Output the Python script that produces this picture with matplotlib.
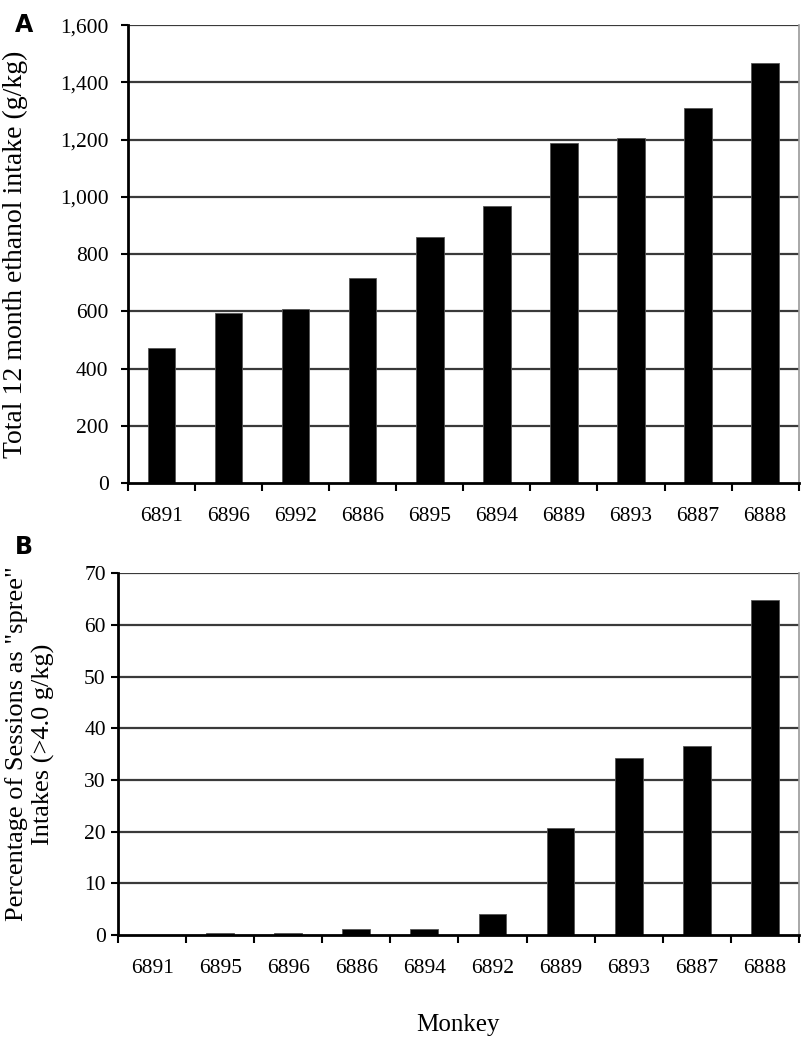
import numpy as np
import matplotlib.pyplot as plt
from matplotlib.ticker import FuncFormatter

plt.rcParams['font.family'] = ['Liberation Serif', 'DejaVu Serif']

# panel A: total 12 month intake, ordered by intake
monkeys_a = ['6891', '6896', '6992', '6886', '6895', '6894', '6889', '6893', '6887', '6888']
intake = [472, 594, 608, 716, 860, 968, 1188, 1205, 1310, 1467]

# panel B: percentage of sessions as spree intakes
monkeys_b = ['6891', '6895', '6896', '6886', '6894', '6892', '6889', '6893', '6887', '6888']
spree_pct = [0.0, 0.45, 0.45, 1.1, 1.1, 4.0, 20.7, 34.2, 36.5, 64.8]

grid_color = '#3a3a3a'


def bar_panel(ax, labels, values, ymax, ystep, fmt=None, ypad=5):
    x = np.arange(len(labels))
    ax.set_axisbelow(True)
    for yv in np.arange(ystep, ymax + ystep / 2, ystep):
        ax.axhline(yv, color=grid_color, lw=1.6, zorder=0)
    ax.bar(x, values, width=0.41, color='black', edgecolor='#555555', lw=0.6, zorder=2)
    ax.set_xlim(-0.5, len(labels) - 0.5)
    ax.set_ylim(0, ymax)
    ax.set_yticks(np.arange(0, ymax + ystep / 2, ystep))
    if fmt:
        ax.yaxis.set_major_formatter(FuncFormatter(fmt))
    # category labels between boundary ticks
    ax.set_xticks(np.arange(-0.5, len(labels), 1.0))
    ax.set_xticklabels([])
    ax.set_xticks(x, minor=True)
    ax.set_xticklabels(labels, minor=True)
    ax.tick_params(axis='x', which='minor', length=0, pad=17, labelsize=15.5)
    ax.tick_params(axis='x', which='major', direction='out', length=6, width=1.5)
    ax.tick_params(axis='y', direction='out', length=5, width=1.5, labelsize=15.5, pad=ypad)
    ax.spines['left'].set_linewidth(2)
    ax.spines['bottom'].set_linewidth(2)
    ax.spines['top'].set_visible(False)
    ax.spines['right'].set_color('#9a9a9a')
    ax.spines['right'].set_linewidth(1.2)


fig = plt.figure(figsize=(8.1, 10.5), dpi=100)

ax1 = fig.add_axes([0.158, 0.540, 0.828, 0.436])
bar_panel(ax1, monkeys_a, intake, 1600, 200, fmt=lambda v, p: f'{int(v):,}', ypad=9)
ax1.set_ylabel('Total 12 month ethanol intake (g/kg)', fontsize=20)
ax1.yaxis.set_label_coords(-0.149, 0.50)

ax2 = fig.add_axes([0.146, 0.1095, 0.840, 0.3445])
bar_panel(ax2, monkeys_b, spree_pct, 70, 10, ypad=4)
ax2.set_ylabel('Percentage of Sessions as "spree"\nIntakes (>4.0 g/kg)', fontsize=19,
               linespacing=1.2)
ax2.yaxis.set_label_coords(-0.093, 0.528)
ax2.set_xlabel('Monkey', fontsize=18, labelpad=26)

fig.text(0.0185, 0.988, 'A', fontsize=17, fontweight='bold', family='DejaVu Sans', va='top')
fig.text(0.0185, 0.4905, 'B', fontsize=17, fontweight='bold', family='DejaVu Sans', va='top')

fig.savefig('out.png', dpi=100)
